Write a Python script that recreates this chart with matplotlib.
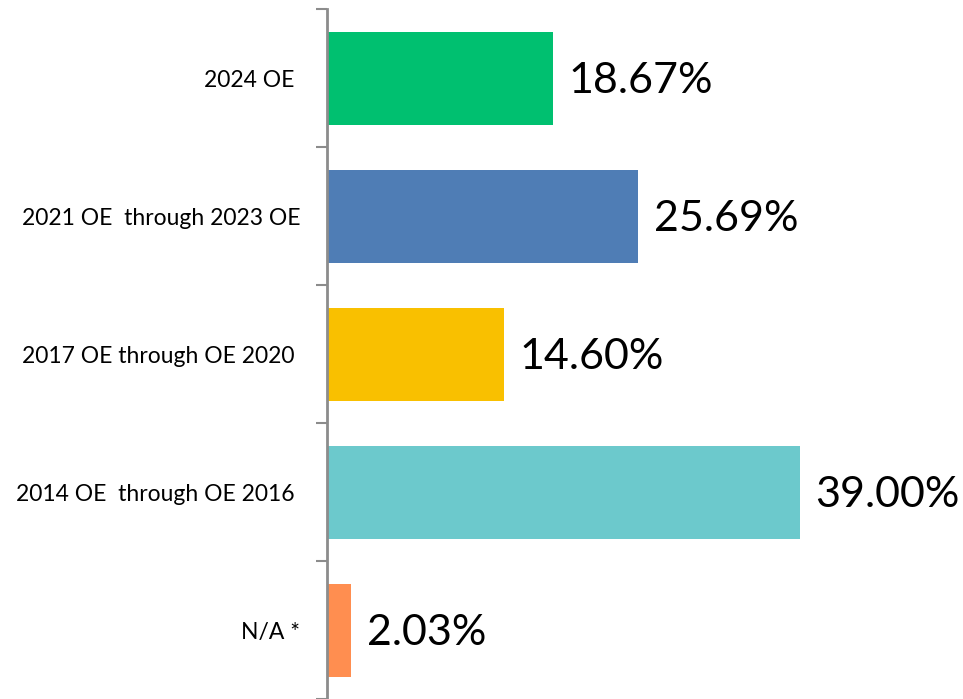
import matplotlib
matplotlib.use("Agg")
import matplotlib.pyplot as plt

categories = ["2024 OE ", "2021 OE  through 2023 OE", "2017 OE through OE 2020 ",
              "2014 OE  through OE 2016 ", "N/A *"]
values = [18.67, 25.69, 14.60, 39.00, 2.03]
colors = ["#00C070", "#4F7DB5", "#F9C000", "#6CC9CC", "#FF8E50"]

plt.rcParams['font.family'] = ['Lato', 'DejaVu Sans']

W, H = 963, 699
fig = plt.figure(figsize=(W / 100, H / 100), dpi=100)
left = 326.5 / W
bottom = 0.0
top = 9.5 / H
ax = fig.add_axes([left, bottom, 1 - left, 1 - top - bottom])

px_per_unit = (800 - 327) / 39.0
xmax = (W - 326.5) / px_per_unit

n = len(categories)
ypos = list(range(n))
ax.barh(ypos, values, height=0.675, color=colors, left=0)
ax.set_ylim(n - 0.5, -0.5)
ax.set_xlim(0, xmax)

ax.set_yticks([i - 0.5 for i in range(n + 1)])
ax.set_yticklabels([])
ax.set_yticks(ypos, minor=True)
ax.set_yticklabels(categories, minor=True, fontsize=16.5)
ax.tick_params(axis='y', which='minor', length=0, pad=19)
ax.tick_params(axis='y', which='major', length=8, width=1.5, color='#8C8C8C')
ax.set_xticks([])

for s in ['top', 'right', 'bottom']:
    ax.spines[s].set_visible(False)
ax.spines['left'].set_color('#8C8C8C')
ax.spines['left'].set_linewidth(2)

for y, v in zip(ypos, values):
    ax.text(v + 16 / px_per_unit, y + 0.02, f"{v:.2f}%", va='center', ha='left', fontsize=31)

fig.savefig("out.png", dpi=100)
